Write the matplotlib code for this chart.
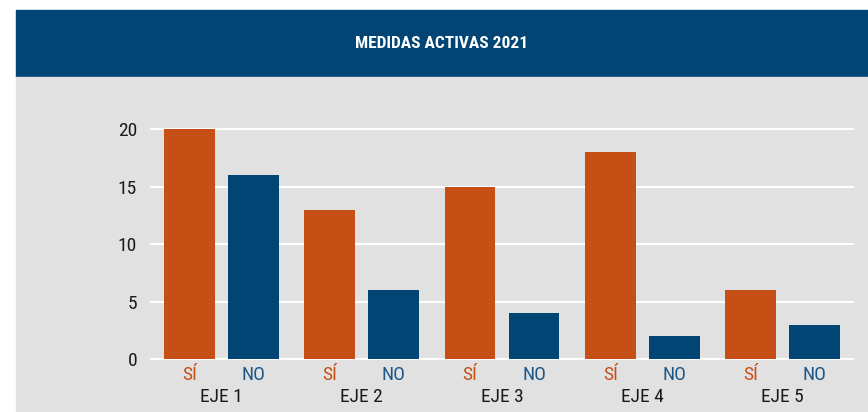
import numpy as np
import matplotlib.pyplot as plt
from matplotlib.patches import Rectangle

ejes = ['EJE 1', 'EJE 2', 'EJE 3', 'EJE 4', 'EJE 5']
si = [20, 13, 15, 18, 6]
no = [16, 6, 4, 2, 3]
yticks = [0, 5, 10, 15, 20]

orange = '#C64F16'
blue = '#004573'
bg = '#E1E1E1'
font = ['Liberation Sans Narrow', 'Roboto Condensed', 'Open Sans', 'DejaVu Sans']

fig = plt.figure(figsize=(8.68, 4.12), dpi=100)
fig.patch.set_facecolor('white')

# header band and grey panel
x0 = 16 / 868
fig.patches.append(Rectangle((x0, (412 - 77) / 412), 1 - x0, 67 / 412,
                             transform=fig.transFigure, color=blue, zorder=-5))
fig.patches.append(Rectangle((x0, 0), 1 - x0, (412 - 77) / 412,
                             transform=fig.transFigure, color=bg, zorder=-5))
fig.text((x0 + 1) / 2, (412 - 43) / 412, 'MEDIDAS ACTIVAS 2021', color='white',
         fontsize=12.5, fontweight='bold', ha='center', va='center', family=font)

ax = fig.add_axes([151 / 868, 53 / 412, 702 / 868, 229.7 / 412])
ax.set_facecolor('none')

x = np.arange(len(ejes))
off = 0.228
w = 0.363
ax.bar(x - off, si, w, color=orange, zorder=3)
ax.bar(x + off, no, w, color=blue, zorder=3)

ax.set_xlim(-0.5, 4.5)
ax.set_ylim(0, 20)
ax.set_yticks(yticks)
ax.set_yticklabels([str(v) for v in yticks], family=font, fontsize=14, color='#1a1a1a')
ax.tick_params(axis='y', length=0, pad=10)
ax.set_xticks([])
for v in yticks:
    ax.axhline(v, color='white', lw=1.4, zorder=1, clip_on=False)
for s in ax.spines.values():
    s.set_visible(False)

for i, e in enumerate(ejes):
    ax.annotate('SÍ', (x[i] - off, 0), xycoords='data', xytext=(0, -11.5),
                textcoords='offset points', ha='center', va='center',
                color=orange, fontsize=14, family=font)
    ax.annotate('NO', (x[i] + off, 0), xycoords='data', xytext=(0, -11.5),
                textcoords='offset points', ha='center', va='center',
                color='#1a5688', fontsize=14, family=font)
    ax.annotate(e, (x[i], 0), xycoords='data', xytext=(0, -27.5),
                textcoords='offset points', ha='center', va='center',
                color='#1a1a1a', fontsize=14, family=font)

fig.savefig('out.png', dpi=100)
